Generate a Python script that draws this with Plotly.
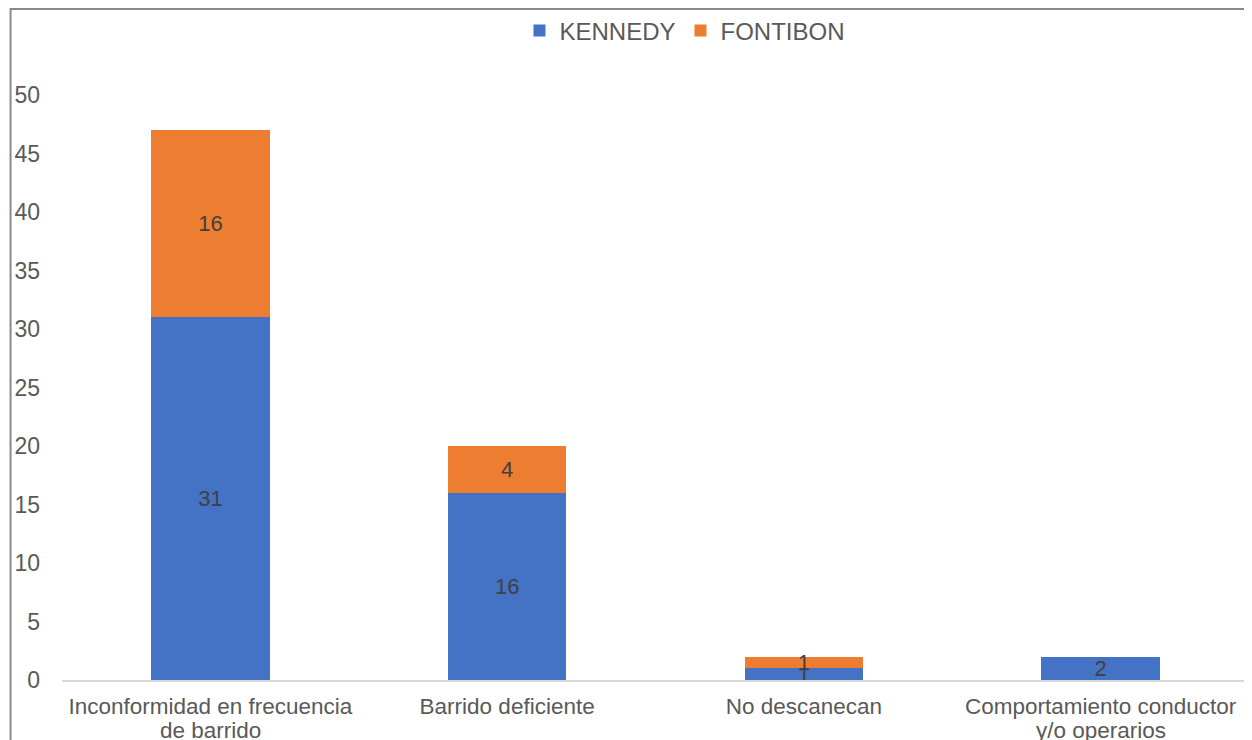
import plotly.graph_objects as go

categories = ["Inconformidad en frecuencia\nde barrido", "Barrido deficiente",
              "No descanecan", "Comportamiento conductor\ny/o operarios"]
kennedy = [31, 16, 1, 2]
fontibon = [16, 4, 1, 0]
fontibon_text = ["16", "4", "1", ""]
y_ticks = [0, 5, 10, 15, 20, 25, 30, 35, 40, 45, 50]

FONT = "Liberation Sans, Arial, sans-serif"
# page body has an 8px margin, so figure is 8px smaller in each direction
W, H = 1244, 732
ml, mr, mt, mb = 53.5, 2.5, 87, 60
pw, ph = W - ml - mr, H - mt - mb

first_lines = [c.split("\n")[0] for c in categories]
second_lines = [c.split("\n")[1] if "\n" in c else "" for c in categories]

fig = go.Figure()
fig.add_trace(go.Bar(name="KENNEDY", x=categories, y=kennedy, marker_color="#4472C4",
                     marker_line_width=0,
                     text=[str(v) for v in kennedy], textposition="inside", textangle=0,
                     insidetextanchor="middle", constraintext="none",
                     textfont=dict(size=22, color="#404040", family=FONT)))
fig.add_trace(go.Bar(name="FONTIBON", x=categories, y=fontibon, marker_color="#ED7D31",
                     marker_line_width=0,
                     text=fontibon_text, textposition="inside", textangle=0,
                     insidetextanchor="middle", constraintext="none",
                     textfont=dict(size=22, color="#404040", family=FONT)))

annotations = []
for cat, line2 in zip(categories, second_lines):
    if line2:
        annotations.append(dict(x=cat, xref="x", y=(672 - 722) / ph, yref="paper",
                                text=line2, showarrow=False, yanchor="middle",
                                font=dict(size=22.5, color="#595959", family=FONT)))

fig.update_layout(
    width=W, height=H, barmode="stack", bargap=0.6,
    margin=dict(l=ml, r=mr, t=mt, b=mb, pad=0, autoexpand=False),
    paper_bgcolor="white", plot_bgcolor="white",
    font=dict(family=FONT, color="#595959"),
    legend=dict(orientation="h", traceorder="normal", x=(677 - ml) / pw, xanchor="center",
                y=(672 - 23) / ph, yanchor="middle",
                font=dict(size=24, color="#595959"), itemwidth=30,
                bgcolor="rgba(0,0,0,0)"),
    xaxis=dict(showline=True, linecolor="#D9D9D9", linewidth=1.5, ticks="",
               ticklabelstandoff=5, automargin=False,
               tickvals=categories, ticktext=first_lines,
               tickfont=dict(size=22.5, color="#595959"), showgrid=False),
    yaxis=dict(range=[0, 50], tickvals=y_ticks, showgrid=False, zeroline=False,
               showline=False, ticks="", ticklabelstandoff=21, automargin=False,
               tickfont=dict(size=23, color="#595959")),
    annotations=annotations,
    shapes=[dict(type="rect", xref="paper", yref="paper",
                 x0=(2 - ml) / pw, x1=(1242 - ml) / pw,
                 y0=(672 - 760) / ph, y1=(672 - 1) / ph,
                 line=dict(color="#898989", width=2), layer="below")],
)

fig.write_html("out.html")
